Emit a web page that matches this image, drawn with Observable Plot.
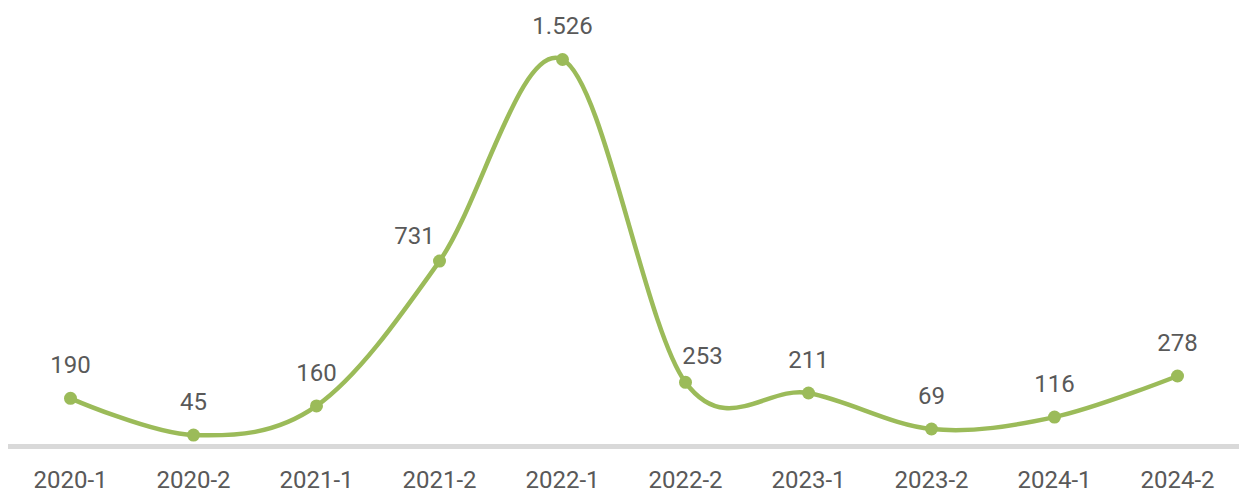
<!DOCTYPE html>
<html>
<head>
<meta charset="utf-8">
<script src="https://cdn.jsdelivr.net/npm/d3@7"></script>
<script src="https://cdn.jsdelivr.net/npm/@observablehq/plot@0.6"></script>
<style>
  html, body { margin: 0; padding: 0; background: #fff; }
  #chart { width: 1239px; height: 493px; }
</style>
</head>
<body>
<div id="chart"></div>
<script>
const periods = ["2020-1","2020-2","2021-1","2021-2","2022-1","2022-2","2023-1","2023-2","2024-1","2024-2"];
const values = [190, 45, 160, 731, 1526, 253, 211, 69, 116, 278];

const data = periods.map((p, i) => ({period: p, value: values[i], i}));
const fmt = d3.formatLocale({decimal: ",", thousands: ".", grouping: [3], currency: ["", "€"]}).format(",");

const lineColor = "#9bbb59";
const textColor = "#595959";
const font = "Roboto, 'Liberation Sans', sans-serif";

const chart = Plot.plot({
  width: 1239,
  height: 493,
  marginLeft: 8,
  marginRight: 0,
  marginTop: 59,
  marginBottom: 47,
  style: {fontFamily: font, fontSize: "24px", fontWeight: 400, color: textColor, background: "#fff"},
  x: {type: "point", domain: periods, padding: 0.5, label: null},
  y: {domain: [0, 1526], axis: null},
  marks: [
    Plot.ruleY([0], {stroke: "#d9d9d9", strokeWidth: 5}),
    Plot.axisX({tickSize: 0, tickPadding: 24, fontSize: 24, fill: textColor, label: null}),
    Plot.line(data, {x: "period", y: "value", stroke: lineColor, strokeWidth: 4.5, curve: "cardinal"}),
    Plot.dot(data, {x: "period", y: "value", r: 6.5, fill: lineColor, stroke: null}),
    Plot.text(data.filter(d => d.value !== 731 && d.value !== 253), {x: "period", y: "value", text: d => fmt(d.value), dy: -33, fill: textColor, fontSize: 24}),
    Plot.text(data.filter(d => d.value === 731), {x: "period", y: "value", text: d => fmt(d.value), dy: -25, dx: -25, fill: textColor, fontSize: 24}),
    Plot.text(data.filter(d => d.value === 253), {x: "period", y: "value", text: d => fmt(d.value), dy: -26, dx: 17, fill: textColor, fontSize: 24})
  ]
});
document.getElementById("chart").appendChild(chart);
</script>
</body>
</html>
